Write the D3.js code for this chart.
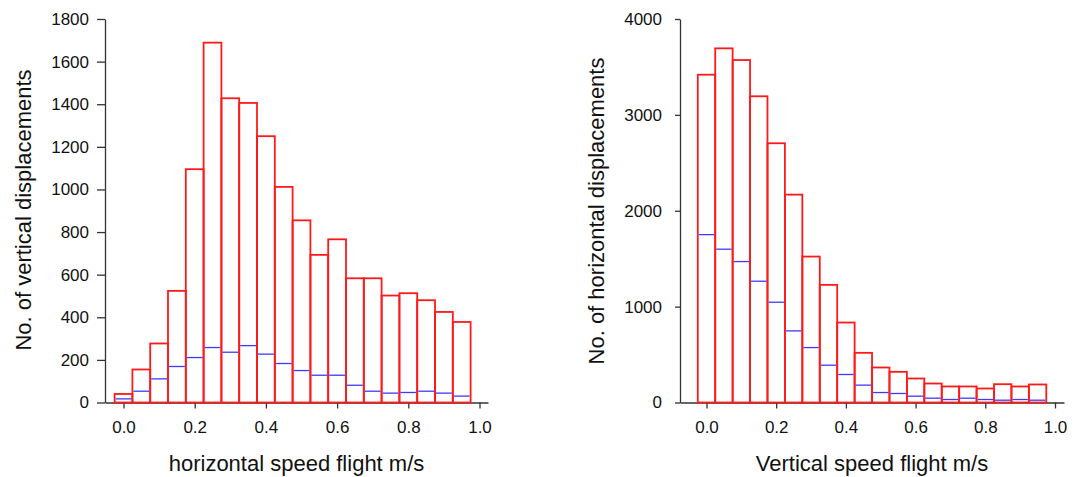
<!DOCTYPE html>
<html>
<head>
<meta charset="utf-8">
<script src="https://cdn.jsdelivr.net/npm/d3@7"></script>
<style>
  body { margin: 0; background: #fff; }
  svg { display: block; font-family: Arial, "Liberation Sans", sans-serif; }
</style>
</head>
<body>
<svg id="chart" width="1079" height="477"></svg>
<script>
// bin centres (m/s), bins are 0.05 wide
const binCenters = [0, 0.05, 0.1, 0.15, 0.2, 0.25, 0.3, 0.35, 0.4, 0.45,
                    0.5, 0.55, 0.6, 0.65, 0.7, 0.75, 0.8, 0.85, 0.9, 0.95];
const binWidth = 0.05;

// left panel: horizontal speed, counts of vertical displacements
const horizAll = [40, 155, 277, 524, 1095, 1689, 1428, 1406, 1250, 1012,
                  855, 693, 766, 583, 583, 502, 513, 480, 425, 378];
const horizSub = [17, 53, 111, 169, 211, 258, 236, 267, 227, 183,
                  150, 128, 128, 81, 53, 44, 47, 53, 44, 30];

// right panel: vertical speed, counts of horizontal displacements
const vertAll = [3419, 3694, 3572, 3194, 2704, 2168, 1522, 1227, 834, 518,
                 365, 320, 250, 198, 167, 167, 146, 191, 167, 188];
const vertSub = [1751, 1599, 1470, 1265, 1046, 747, 573, 389, 292, 181,
                 104, 94, 66, 45, 31, 45, 31, 24, 31, 24];

const xTicks = [0, 0.2, 0.4, 0.6, 0.8, 1.0];
const yTicksLeft = [0, 200, 400, 600, 800, 1000, 1200, 1400, 1600, 1800];
const yTicksRight = [0, 1000, 2000, 3000, 4000];

const RED = "#ff1a1a";
const BLUE = "#3b3bff";
const AXIS = "#333";

const svg = d3.select("#chart");

function drawPanel(p) {
  const g = svg.append("g");

  // scales
  const x = d3.scaleLinear().domain([0, 1]).range([p.x0, p.x1]);
  const y = d3.scaleLinear().domain([0, p.yMax]).range([p.yBottom, p.yTop]);

  // axis scale covers the full drawn line
  const xAxisScale = x.copy()
    .domain([x.invert(p.axisLeft), x.invert(p.axisRight)])
    .range([p.axisLeft, p.axisRight]);

  // x axis
  const xa = g.append("g")
    .attr("transform", `translate(0,${p.yBottom})`)
    .call(d3.axisBottom(xAxisScale)
      .tickValues(xTicks)
      .tickFormat(d3.format(".1f"))
      .tickSize(6)
      .tickSizeOuter(0)
      .tickPadding(12));
  xa.selectAll("path, line").attr("stroke", AXIS).attr("stroke-width", 1.3);
  xa.selectAll("text").attr("font-size", 17).attr("fill", "#111");

  // y axis
  const ya = g.append("g")
    .attr("transform", `translate(${p.axisLeft},0)`)
    .call(d3.axisLeft(y)
      .tickValues(p.yTicks)
      .tickFormat(d3.format("d"))
      .tickSize(p.yTickSize)
      .tickSizeOuter(0)
      .tickPadding(p.yTickPad));
  ya.selectAll("path, line").attr("stroke", AXIS).attr("stroke-width", 1.3);
  ya.selectAll("text").attr("font-size", 17).attr("fill", "#111");

  // red histogram bars
  g.append("g").selectAll("rect")
    .data(binCenters)
    .join("rect")
    .attr("x", (d) => x(d - binWidth / 2))
    .attr("width", (d) => x(d + binWidth / 2) - x(d - binWidth / 2))
    .attr("y", (d, i) => y(p.all[i]))
    .attr("height", (d, i) => y(0) - y(p.all[i]))
    .attr("fill", "none")
    .attr("stroke", RED)
    .attr("stroke-width", 1.8);

  // blue sub-counts as horizontal lines
  g.append("g").selectAll("line")
    .data(binCenters)
    .join("line")
    .attr("x1", (d) => x(d - binWidth / 2) + 1)
    .attr("x2", (d) => x(d + binWidth / 2) - 1)
    .attr("y1", (d, i) => y(p.sub[i]))
    .attr("y2", (d, i) => y(p.sub[i]))
    .attr("stroke", BLUE)
    .attr("stroke-width", 1.3);

  // axis titles
  g.append("text")
    .attr("x", (p.axisLeft + p.axisRight) / 2)
    .attr("y", 471)
    .attr("text-anchor", "middle")
    .attr("font-size", 22)
    .attr("fill", "#111")
    .text(p.xLabel);

  g.append("text")
    .attr("transform", `translate(${p.yTitleX},${p.yTitleY}) rotate(-90)`)
    .attr("text-anchor", "middle")
    .attr("font-size", 22)
    .attr("fill", "#111")
    .text(p.yLabel);
}

drawPanel({
  all: horizAll, sub: horizSub,
  x0: 123.5, x1: 479.5, axisLeft: 105, axisRight: 488,
  yTop: 19, yBottom: 402.5, yMax: 1800, yTicks: yTicksLeft,
  yTickSize: 8, yTickPad: 8,
  yTitleX: 31, yTitleY: 210,
  xLabel: "horizontal speed flight m/s",
  yLabel: "No. of vertical displacements",
});

drawPanel({
  all: vertAll, sub: vertSub,
  x0: 706.5, x1: 1055, axisLeft: 680, axisRight: 1064,
  yTop: 19, yBottom: 402.5, yMax: 4000, yTicks: yTicksRight,
  yTickSize: 5, yTickPad: 13,
  yTitleX: 604, yTitleY: 211,
  xLabel: "Vertical speed flight m/s",
  yLabel: "No. of horizontal displacements",
});
</script>
</body>
</html>
